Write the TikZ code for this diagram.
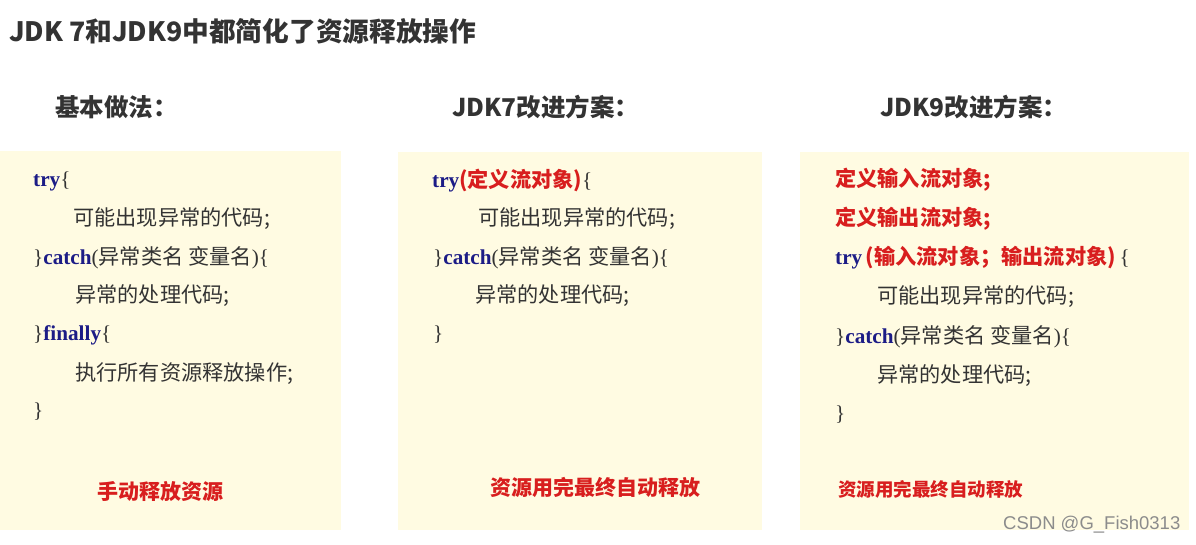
\documentclass[tikz,border=0pt]{standalone}
\usepackage{fontspec}
\setmainfont{Liberation Serif}
\newfontfamily\cjk{Noto Sans CJK SC}
\usepackage{tikz}
\usepackage{color}

\definecolor{panelfill}{HTML}{FFFBE2}
\definecolor{keyblue}{HTML}{1C1C86}
\definecolor{hotred}{HTML}{D81E1E}
\definecolor{inkgray}{HTML}{333333}

\newcommand{\kw}[1]{\textcolor{keyblue}{\bfseries #1}}
\newcommand{\zh}[1]{{\cjk #1}}
\newcommand{\rzh}[1]{\textcolor{hotred}{\cjk\bfseries #1}}

\tikzset{
  panel/.style={fill=panelfill,draw=none,anchor=north west,inner sep=0pt},
  heading/.style={anchor=west,inner sep=0pt,text=inkgray,font=\cjk\bfseries\fontsize{24.5}{28}\selectfont},
  codeline/.style={anchor=west,inner sep=0pt,text=inkgray,font=\fontsize{21.2}{24}\selectfont},
  note/.style={anchor=west,inner sep=0pt,text=hotred,font=\cjk\bfseries\fontsize{21}{24}\selectfont}
}

\begin{document}
\begin{tikzpicture}[x=1pt,y=-1pt]
\useasboundingbox (0,0) rectangle (1196,544);
\fill[white] (0,0) rectangle (1196,544);

% title
\node [anchor=west,inner sep=0pt,text=inkgray,font=\cjk\bfseries\fontsize{26.7}{30}\selectfont] (title) at (9,31) {JDK 7和JDK9中都简化了资源释放操作};

% panels
\node [panel,minimum width=341,minimum height=379] (basic) at (0,151) {};
\node [panel,minimum width=364,minimum height=378] (jdkseven) at (398,152) {};
\node [panel,minimum width=389,minimum height=378] (jdknine) at (800,152) {};

% headings
\node [heading] (hbasic) at (55,107) {基本做法：};
\node [heading] (hseven) at (452,107) {JDK7改进方案：};
\node [heading] (hnine) at (880,107) {JDK9改进方案：};

% basic way
\node [codeline] (b1) at (33,181) {\kw{try}\{};
\node [codeline] (b2) at (73,219) {\zh{可能出现异常的代码;}};
\node [codeline] (b3) at (33,258) {\}\kw{catch}(\zh{异常类名 变量名})\{};
\node [codeline] (b4) at (75,296) {\zh{异常的处理代码;}};
\node [codeline] (b5) at (33,335) {\}\kw{finally}\{};
\node [codeline] (b6) at (75,374) {\zh{执行所有资源释放操作;}};
\node [codeline] (b7) at (33,412) {\}};
\node [note] (bnote) at (97,491) {手动释放资源};

% jdk 7
\node [codeline] (s1) at (432,181) {\kw{try}\rzh{(定义流对象)}\{};
\node [codeline] (s2) at (478,219) {\zh{可能出现异常的代码;}};
\node [codeline] (s3) at (433,258) {\}\kw{catch}(\zh{异常类名 变量名})\{};
\node [codeline] (s4) at (475,296) {\zh{异常的处理代码;}};
\node [codeline] (s5) at (433,335) {\}};
\node [note] (snote) at (490,487) {资源用完最终自动释放};

% jdk 9
\node [codeline] (n1) at (835,180) {\rzh{定义输入流对象;}};
\node [codeline] (n2) at (835,219) {\rzh{定义输出流对象;}};
\node [codeline] (n3) at (835,258) {\kw{try}\,\rzh{(输入流对象；输出流对象)}\,\{};
\node [codeline] (n4) at (877,297) {\zh{可能出现异常的代码;}};
\node [codeline] (n5) at (835,337) {\}\kw{catch}(\zh{异常类名 变量名})\{};
\node [codeline] (n6) at (877,376) {\zh{异常的处理代码;}};
\node [codeline] (n7) at (835,415) {\}};
\node [note,font=\cjk\bfseries\fontsize{18.5}{22}\selectfont] (nnote) at (838,489) {资源用完最终自动释放};

% watermark
\node [anchor=west,inner sep=0pt,text=black!45,font=\fontspec{Liberation Sans}\fontsize{18.5}{20}\selectfont] (mark) at (1003,525) {CSDN @G\_Fish0313};
\end{tikzpicture}
\end{document}
